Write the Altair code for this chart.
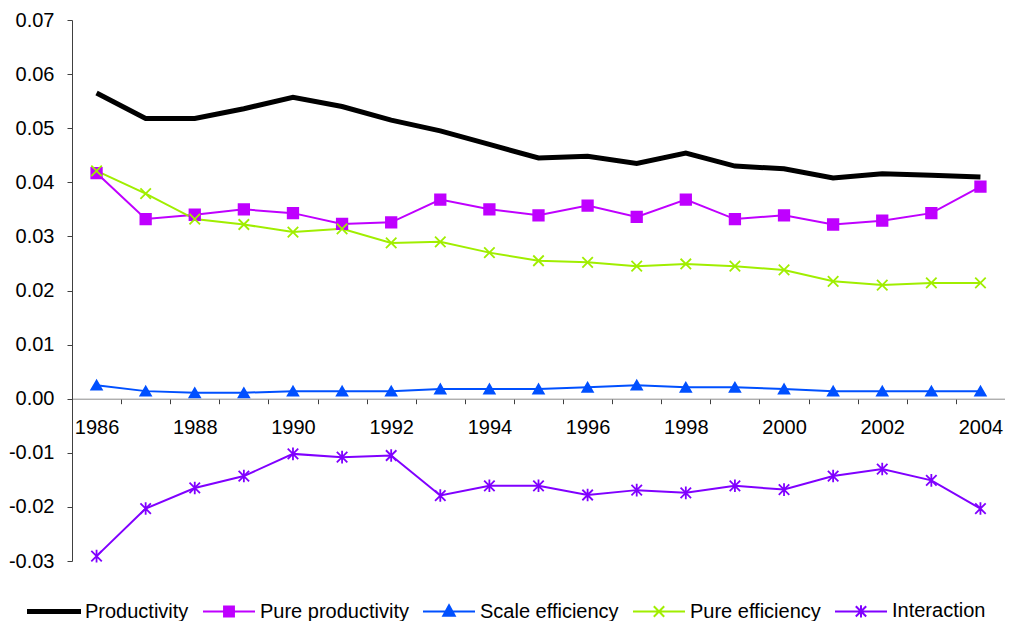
import altair as alt
import pandas as pd

years = list(range(1986, 2005))
series = ["Productivity", "Pure productivity", "Scale efficiency", "Pure efficiency", "Interaction"]
colors = ["#000000", "#BF00FF", "#0050FF", "#A0EE00", "#8000FF"]

productivity = [0.0565, 0.0518, 0.0518, 0.0536, 0.0557, 0.0540, 0.0515, 0.0495, 0.0470, 0.0445,
                0.0448, 0.0435, 0.0454, 0.0430, 0.0425, 0.0408, 0.0416, 0.0413, 0.0410]
pure_productivity = [0.0417, 0.0332, 0.0340, 0.0350, 0.0343, 0.0323, 0.0326, 0.0368, 0.0350, 0.0339,
                     0.0357, 0.0336, 0.0368, 0.0332, 0.0339, 0.0322, 0.0329, 0.0343, 0.0392]
scale_efficiency = [0.0025, 0.0014, 0.0011, 0.0011, 0.0014, 0.0014, 0.0014, 0.0018, 0.0018, 0.0018,
                    0.0021, 0.0025, 0.0021, 0.0021, 0.0018, 0.0014, 0.0014, 0.0014, 0.0014]
pure_efficiency = [0.0421, 0.0379, 0.0332, 0.0322, 0.0308, 0.0314, 0.0288, 0.0290, 0.0270, 0.0255,
                   0.0252, 0.0245, 0.0249, 0.0245, 0.0238, 0.0217, 0.0210, 0.0214, 0.0214]
interaction = [-0.0291, -0.0203, -0.0165, -0.0143, -0.0102, -0.0108, -0.0105, -0.0179, -0.0161, -0.0161,
               -0.0178, -0.0169, -0.0174, -0.0161, -0.0168, -0.0143, -0.0130, -0.0151, -0.0203]

values = [productivity, pure_productivity, scale_efficiency, pure_efficiency, interaction]
markers = [None, "square", "triangle-up", "M-1,-1L1,1M-1,1L1,-1", "M-1,-1L1,1M-1,1L1,-1M0,-1.2V1.2"]
widths = [5, 2, 2, 2, 2]
legend_paths = [
    "M-1,-0.06H1V0.06H-1Z",
    "M-1,0H1M-0.19,-0.19H0.19V0.19H-0.19Z",
    "M-1,0H1M0,-0.24L0.22,0.16H-0.22Z",
    "M-1,0H1M-0.2,-0.2L0.2,0.2M-0.2,0.2L0.2,-0.2",
    "M-1,0H1M-0.2,-0.2L0.2,0.2M-0.2,0.2L0.2,-0.2M0,-0.24V0.24",
]

rows = []
for s, c, m, w, vals in zip(series, colors, markers, widths, values):
    for y, v in zip(years, vals):
        rows.append({"year": y, "value": v, "series": s, "col": c, "marker": m, "sw": w})
df = pd.DataFrame(rows)

W, H = 933, 541
ymin, ymax = -0.03, 0.07
zero_offset = -(H * (0 - ymin) / (ymax - ymin))

x_scale = alt.Scale(domain=[1985.5, 2004.5], nice=False, zero=False)
y_scale = alt.Scale(domain=[ymin, ymax], nice=False, zero=False)

x_axis = alt.Axis(
    values=[y - 0.5 for y in years],
    labelExpr="(datum.value + 0.5) % 2 == 0 ? format(datum.value + 0.5, 'd') : ''",
    labelOffset=W / 19 / 2,
    labelOverlap=False,
    labelFlush=False,
    offset=zero_offset,
    tickSize=5,
    labelPadding=14,
    grid=False,
    title=None,
    domainColor="#8c8c8c",
    tickColor="#404040",
)
y_axis = alt.Axis(
    values=[round(-0.03 + 0.01 * i, 2) for i in range(11)],
    labelExpr="(datum.value < -0.0001 ? '-' : '') + format(abs(datum.value), '.2f')",
    tickSize=5,
    labelPadding=13,
    grid=False,
    title=None,
    domainColor="#404040",
    tickColor="#404040",
)

base = alt.Chart(df)

lines = base.mark_line().encode(
    x=alt.X("year:Q", scale=x_scale, axis=x_axis),
    y=alt.Y("value:Q", scale=y_scale, axis=y_axis),
    detail="series:N",
    color=alt.Color("col:N", scale=None),
    strokeWidth=alt.StrokeWidth("sw:Q", scale=None),
)

points = base.transform_filter("datum.series != 'Productivity'").mark_point(
    opacity=1, filled=True, strokeWidth=1.8
).encode(
    x=alt.X("year:Q", scale=x_scale),
    y=alt.Y("value:Q", scale=y_scale),
    shape=alt.Shape("marker:N", scale=None),
    fill=alt.Fill("col:N", scale=None),
    stroke=alt.Stroke("col:N", scale=None),
    size=alt.value(110),
)

leg = dict(
    title=None,
    orient="none",
    legendX=-45,
    legendY=564,
    direction="horizontal",
    symbolSize=2704,
    symbolStrokeWidth=2,
    labelFont="Liberation Sans",
    labelFontSize=20,
    labelColor="#000000",
    labelOffset=4,
    labelLimit=400,
    columnPadding=10,
    padding=0,
)

legend_layer = base.transform_filter("datum.year < 0").mark_point(opacity=1, strokeWidth=2).encode(
    x=alt.X("year:Q", scale=x_scale),
    y=alt.Y("value:Q", scale=y_scale),
    fill=alt.Fill("series:N", scale=alt.Scale(domain=series, range=colors), legend=alt.Legend(**leg)),
    stroke=alt.Stroke("series:N", scale=alt.Scale(domain=series, range=colors), legend=alt.Legend(**leg)),
    shape=alt.Shape("series:N", scale=alt.Scale(domain=series, range=legend_paths), legend=alt.Legend(**leg)),
)

chart = alt.layer(lines, points, legend_layer).properties(
    width=W,
    height=H,
    autosize=alt.AutoSizeParams(type="none"),
    padding={"left": 64, "top": 12, "right": 0, "bottom": 60},
    background="white",
).configure_view(stroke=None).configure_axis(
    labelFont="Liberation Sans",
    labelFontSize=20,
    labelColor="#000000",
)

chart.save("out.html", embed_options={"renderer": "svg", "actions": False})
